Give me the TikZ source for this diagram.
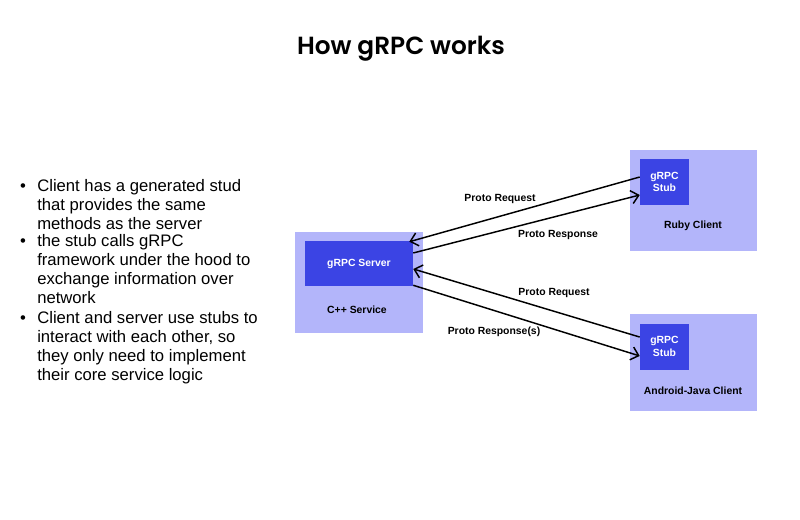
\documentclass[tikz,border=0pt]{standalone}
\usepackage{fontspec}
\setmainfont{Liberation Sans}
\newfontfamily\titlefont{Poppins}[BoldFont={Poppins SemiBold}]
\usetikzlibrary{arrows.meta}

\definecolor{boxlight}{HTML}{B3B5FA}
\definecolor{boxdark}{HTML}{3B44E4}

\begin{document}
\begin{tikzpicture}[
  x=0.75pt, y=-0.75pt,
  outerbox/.style={fill=boxlight, inner sep=0pt},
  innerbox/.style={fill=boxdark, inner sep=0pt, text=white, align=center,
    font=\fontsize{7.8}{9.3}\selectfont\bfseries},
  caption/.style={font=\fontsize{7.8}{9}\selectfont\bfseries},
  msg/.style={font=\fontsize{7.8}{9}\selectfont\bfseries},
  bullet/.style={font=\fontsize{12.5}{14.25}\selectfont, inner sep=0pt},
  item/.style={font=\fontsize{12.5}{14.25}\selectfont, align=left, anchor=north west, inner sep=0pt},
  link/.style={-{Straight Barb[length=5.5pt, width=10pt]}, line width=1.1pt},
]
  \useasboundingbox (0,0) rectangle (800,519);

  \node[font=\titlefont\fontsize{18.6}{21}\selectfont\bfseries] (title) at (401,49) {How gRPC works};

  % bullet list
  \node[bullet] (b1) at (23,188) {•};
  \node[bullet] (b2) at (23,243) {•};
  \node[bullet] (b3) at (23,320) {•};
  \node[item] (t1) at (37,179) {Client has a generated stud\\that provides the same\\methods as the server};
  \node[item] (t2) at (37,234) {the stub calls gRPC\\framework under the hood to\\exchange information over\\network};
  \node[item] (t3) at (37,311) {Client and server use stubs to\\interact with each other, so\\they only need to implement\\their core service logic};

  % server
  \node[outerbox, minimum width=96pt, minimum height=75.75pt] (cpp) at (359,282.5) {};
  \node[innerbox, minimum width=81pt, minimum height=33.75pt] (server) at (359,263.5) {gRPC Server};
  \node[caption] (cpplabel) at (357,310) {C++ Service};

  % clients
  \node[outerbox, minimum width=95.25pt, minimum height=75.75pt] (ruby) at (693.5,200.5) {};
  \node[innerbox, minimum width=36.75pt, minimum height=34.5pt] (rstub) at (664.5,182) {gRPC\\Stub};
  \node[caption] (rubylabel) at (693,226) {Ruby Client};

  \node[outerbox, minimum width=95.25pt, minimum height=72.75pt] (android) at (693.5,362.5) {};
  \node[innerbox, minimum width=36.75pt, minimum height=34.5pt] (astub) at (664.5,346.5) {gRPC\\Stub};
  \node[caption] (androidlabel) at (693,391) {Android-Java Client};

  % messages
  \draw[link] ([yshift=3.75pt]rstub.west) -- ([xshift=-3pt, yshift=-0.75pt]server.north east);
  \draw[link] ([yshift=7.9pt]server.east) -- ([yshift=-9.75pt]rstub.west);
  \draw[link] ([yshift=7.1pt]astub.west) -- ([yshift=-4.1pt]server.east);
  \draw[link] ([yshift=0.75pt]server.south east) -- ([yshift=-7.1pt]astub.west);

  \node[msg] (req1) at (500,199) {Proto Request};
  \node[msg] (resp1) at (558,235) {Proto Response};
  \node[msg] (req2) at (554,293) {Proto Request};
  \node[msg] (resp2) at (494,332) {Proto Response(s)};
\end{tikzpicture}
\end{document}
